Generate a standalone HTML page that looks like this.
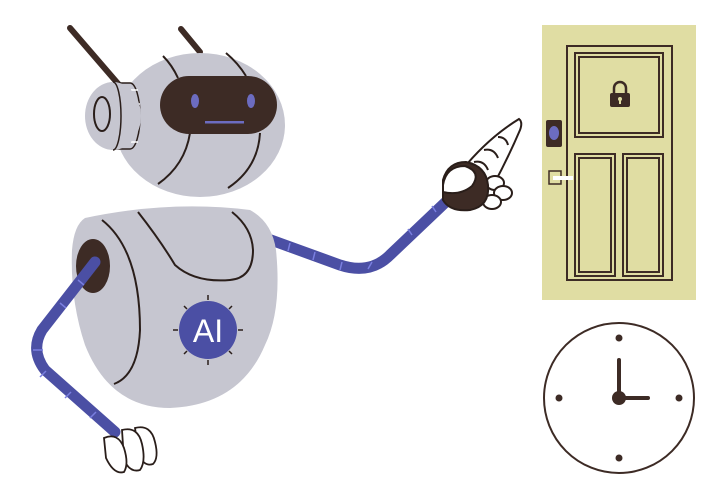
<!DOCTYPE html>
<html><head><style>html,body{margin:0;padding:0;background:#fff}svg{display:block}</style></head>
<body>
<svg width="722" height="500" viewBox="0 0 722 500" xmlns="http://www.w3.org/2000/svg">
<rect x="542" y="25" width="154" height="275" fill="#e0dda3"/>
<rect x="567" y="46" width="105" height="234" fill="none" stroke="#3d2b25" stroke-width="2"/>
<rect x="575" y="53" width="88" height="84" fill="none" stroke="#3d2b25" stroke-width="2"/>
<rect x="579" y="57" width="80" height="76" fill="none" stroke="#3d2b25" stroke-width="2"/>
<rect x="575" y="154" width="40" height="122" fill="none" stroke="#3d2b25" stroke-width="2"/>
<rect x="579" y="158" width="32" height="114" fill="none" stroke="#3d2b25" stroke-width="2"/>
<rect x="623" y="154" width="40" height="122" fill="none" stroke="#3d2b25" stroke-width="2"/>
<rect x="627" y="158" width="32" height="114" fill="none" stroke="#3d2b25" stroke-width="2"/>
<path d="M614 93 v-5 a6 6 0 0 1 12 0 v5" fill="none" stroke="#3d2b25" stroke-width="2.5"/>
<rect x="610" y="93" width="20" height="14" rx="2" fill="#3d2b25"/>
<circle cx="620" cy="99" r="2" fill="#e0dda3"/><rect x="619" y="99" width="2" height="5" fill="#e0dda3"/>
<rect x="546" y="120" width="16" height="27" rx="2" fill="#3d2b25"/>
<ellipse cx="554" cy="133" rx="5" ry="7" fill="#6c6cc0"/>
<rect x="549" y="171" width="12" height="13" fill="none" stroke="#3d2b25" stroke-width="1.5"/>
<rect x="553" y="176" width="20" height="4" fill="#fff"/>
<circle cx="619" cy="398" r="75" fill="none" stroke="#3d2b25" stroke-width="2"/>
<g fill="#3d2b25"><circle cx="619" cy="338" r="3.5"/><circle cx="619" cy="458" r="3.5"/><circle cx="559" cy="398" r="3.5"/><circle cx="679" cy="398" r="3.5"/><circle cx="619" cy="398" r="7"/></g>
<path d="M619 398 V360 M619 398 H648" stroke="#3d2b25" stroke-width="4" stroke-linecap="round"/>
<path d="M70 28 L120 86 M181 29 L200 52" stroke="#3d2b25" stroke-width="6" stroke-linecap="round"/>
<ellipse cx="200" cy="125" rx="85" ry="72" fill="#c6c6d0"/>
<path d="M163 56 Q172 65 178 78 M226 53 Q238 63 246 76 M190 133 Q185 165 158 184 M260 133 Q258 168 228 188" fill="none" stroke="#2a1e1a" stroke-width="2"/>
<rect x="160" y="76" width="117" height="58" rx="29" fill="#3d2b25"/>
<ellipse cx="195" cy="101" rx="4" ry="7" fill="#6c6cc0"/><ellipse cx="251" cy="101" rx="4" ry="7" fill="#6c6cc0"/>
<rect x="205" y="121" width="39" height="2.5" fill="#6c6cc0"/>
<path d="M112 83 h18 a10 33 0 0 1 0 66 h-18 z" fill="#c6c6d0" stroke="#2a1e1a" stroke-width="1.5"/>
<path d="M131 90 h7 M133 104 h7 M133 124 h7 M131 142 h7" stroke="#fff" stroke-width="1.5"/>
<ellipse cx="113" cy="116" rx="28" ry="34" fill="#c6c6d0"/>
<path d="M113 82 a8 34 0 0 1 0 68" fill="none" stroke="#2a1e1a" stroke-width="1.5"/>
<ellipse cx="102" cy="114" rx="8" ry="17" fill="none" stroke="#2a1e1a" stroke-width="2"/>
<path d="M260 236 L340 265 Q370 275 390 255 L450 198" fill="none" stroke="#4b4fa4" stroke-width="11" stroke-linecap="round"/>
<path d="M290 243 l-2 8 M315 252 l-2 8 M342 262 l-2 8 M372 262 l-4 7 M408 229 l4 6 M432 206 l4 6" stroke="#7a7fe0" stroke-width="1.5"/>
<path d="M85 218 Q170 200 250 210 Q272 222 276 250 Q282 310 265 345 Q240 405 170 408 Q110 408 85 345 Q70 300 72 250 Q74 225 85 218 Z" fill="#c6c6d0"/>
<path d="M102 220 Q140 250 140 330 Q138 375 114 384 M138 212 Q160 240 175 265 Q195 283 230 280 Q253 278 253 250 Q252 228 232 212" fill="none" stroke="#2a1e1a" stroke-width="2"/>
<ellipse cx="93" cy="266" rx="17" ry="27" fill="#3d2b25"/>
<circle cx="208" cy="330" r="29" fill="#4b4fa4"/>
<text x="208" y="342" font-family="Liberation Sans, sans-serif" font-size="32" fill="#fff" text-anchor="middle">AI</text>
<path d="M208 295 v5 M208 360 v5 M173 330 h5 M238 330 h5 M184 306 l3 3 M229 351 l3 3 M232 306 l-3 3 M184 354 l3 -3" stroke="#2a1e1a" stroke-width="1.5"/>
<path d="M95 262 L42 330 Q30 350 45 370 L115 432" fill="none" stroke="#4b4fa4" stroke-width="11" stroke-linecap="round"/>
<path d="M78 280 l6 5 M60 303 l6 5 M33 350 h10 M40 377 l6 -6 M65 398 l6 -6 M90 418 l6 -6" stroke="#7a7fe0" stroke-width="1.5"/>
<g fill="#fff" stroke="#2a1e1a" stroke-width="1.8">
<path d="M135 428 q16 -4 20 14 q4 16 -2 22 q-8 3 -14 -8 z"/>
<path d="M122 430 q16 -4 20 14 q4 18 -2 26 q-10 3 -16 -10 z"/>
<path d="M104 438 q14 -6 20 10 q5 16 0 24 q-10 3 -18 -14 z"/>
</g>
<g stroke="#2a1e1a" stroke-width="2" fill="#fff">
<path d="M462 170 Q488 138 519 119 Q523 122 520 130 Q508 158 494 184 Z"/>
<path d="M484 150 q10 -2 14 8 M474 162 q10 -2 14 8 M498 137 q8 0 10 8"/>
<ellipse cx="495" cy="183" rx="9" ry="7"/>
<ellipse cx="503" cy="193" rx="9" ry="7"/>
<ellipse cx="492" cy="202" rx="9" ry="7"/>
<path d="M443 180 Q448 162 466 162 Q486 166 488 185 Q490 206 470 210 Q450 212 443 200 Z" fill="#3d2b25"/>
<path d="M443 185 Q446 166 465 166 Q482 172 472 186 Q460 196 443 192 Z"/>
</g>
</svg>
</body></html>
